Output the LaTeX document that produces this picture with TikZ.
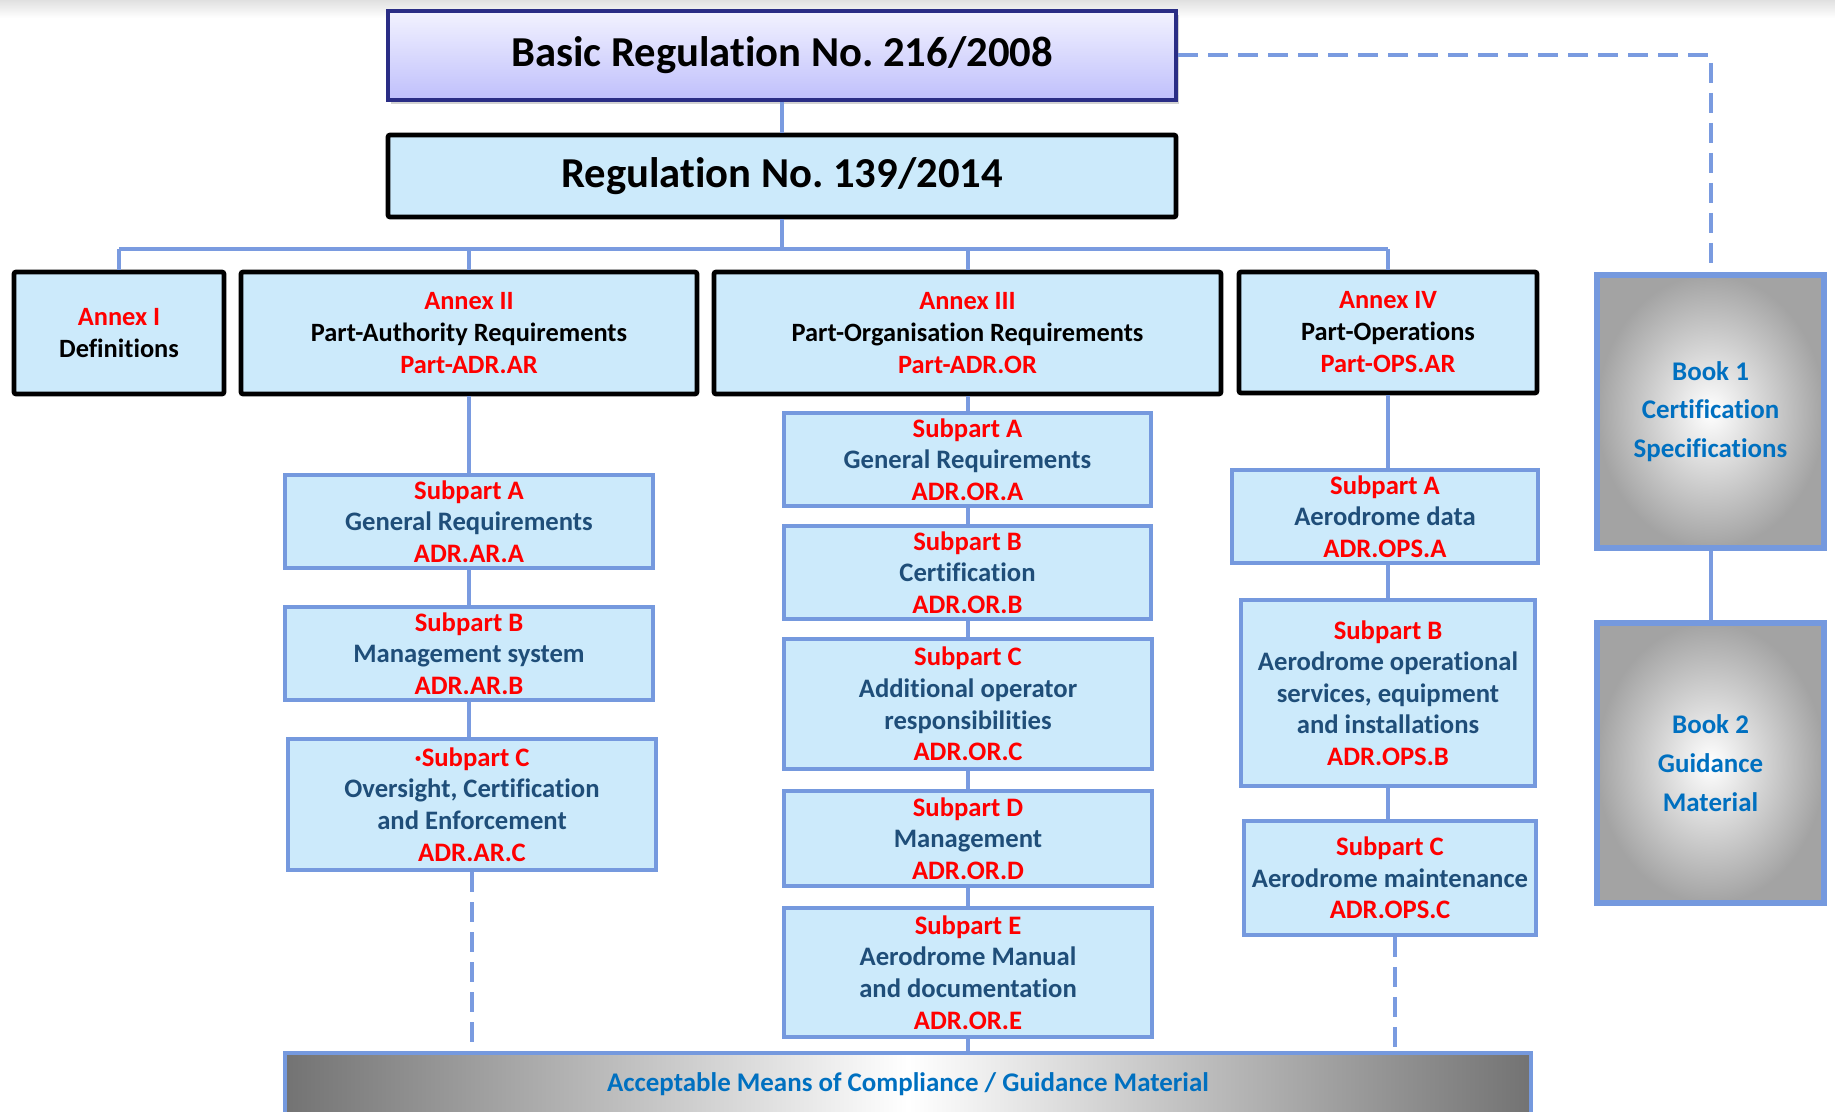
\documentclass[tikz,border=0pt]{standalone}
\usepackage{fontspec}
\setmainfont{Carlito}[Ligatures=NoCommon]
\usetikzlibrary{shadows}
\definecolor{boxfill}{HTML}{CCEAFB}
\definecolor{subborder}{HTML}{7599DE}
\definecolor{connc}{HTML}{7A9BE0}
\definecolor{navyb}{HTML}{2A2D85}
\definecolor{subtext}{HTML}{1F4E79}
\definecolor{booktext}{HTML}{0070C0}
\definecolor{redtext}{HTML}{FF0000}
\frenchspacing
\begin{document}
\begin{tikzpicture}[x=0.75pt,y=-0.75pt,
  sz/.style n args={2}{minimum width={#1*0.75pt}, minimum height={#2*0.75pt}},
  title/.style={inner sep=0pt, align=center, font=\fontsize{32}{38}\selectfont\bfseries},
  annex/.style={draw=black, line width=3.5pt, fill=boxfill, rounded corners=1.5pt, inner sep=0pt, align=center, font=\fontsize{19.8}{24}\selectfont\bfseries},
  sub/.style={draw=subborder, line width=3.5pt, fill=boxfill, inner sep=0pt, align=center, text=subtext, font=\fontsize{20}{23.7}\selectfont\bfseries},
  book/.style={draw=subborder, line width=4pt, inner color=white, outer color=black!36, inner sep=0pt, align=center, text=booktext, font=\fontsize{20.2}{29}\selectfont\bfseries},
  conn/.style={draw=connc, line width=3pt},
  dconn/.style={conn, dash pattern=on 15pt off 7.5pt}]
\useasboundingbox (0,0) rectangle (1835,1112);
\fill[white] (0,0) rectangle (1835,1112);
\shade[top color=black!12, bottom color=white] (0,0) rectangle (1835,18);

% top boxes
\node[title, sz={788}{89}, draw=navyb, line width=3pt, top color=black!3!blue!5, bottom color=black!5!blue!25,
  drop shadow={shadow xshift=2pt, shadow yshift=-3pt, opacity=0.35}] (basic) at (782,55.5) {Basic Regulation No. 216/2008};
\node[title, sz={788}{82}, draw=black, line width=3.5pt, fill=boxfill, rounded corners=1.5pt] (reg) at (782,176) {Regulation No. 139/2014};

% annexes
\node[annex, sz={210}{122}] (a1) at (119,333) {\textcolor{redtext}{Annex I}\\Definitions};
\node[annex, sz={456}{122}] (a2) at (469,333) {\textcolor{redtext}{Annex II}\\Part-Authority Requirements\\\textcolor{redtext}{Part-ADR.AR}};
\node[annex, sz={507}{122}] (a3) at (967.5,333) {\textcolor{redtext}{Annex III}\\Part-Organisation Requirements\\\textcolor{redtext}{Part-ADR.OR}};
\node[annex, sz={298}{121}] (a4) at (1388,332.5) {\textcolor{redtext}{Annex IV}\\Part-Operations\\\textcolor{redtext}{Part-OPS.AR}};

% books
\node[book, sz={227}{273}] (b1) at (1710.5,411.5) {Book 1\\Certification\\Specifications};
\node[book, sz={227}{280}] (b2) at (1710.5,763) {Book 2\\Guidance\\Material};

% Annex II subparts
\node[sub, sz={368}{93}] (s2a) at (469,521.5) {\textcolor{redtext}{Subpart A}\\General Requirements\\\textcolor{redtext}{ADR.AR.A}};
\node[sub, sz={368}{93}] (s2b) at (469,653.5) {\textcolor{redtext}{Subpart B}\\Management system\\\textcolor{redtext}{ADR.AR.B}};
\node[sub, sz={368}{131}] (s2c) at (472,804.5) {\textcolor{redtext}{·Subpart C}\\Oversight, Certification\\and Enforcement\\\textcolor{redtext}{ADR.AR.C}};

% Annex III subparts
\node[sub, sz={367}{93}] (s3a) at (967.5,459.5) {\textcolor{redtext}{Subpart A}\\General Requirements\\\textcolor{redtext}{ADR.OR.A}};
\node[sub, sz={367}{93}] (s3b) at (967.5,572.5) {\textcolor{redtext}{Subpart B}\\Certification\\\textcolor{redtext}{ADR.OR.B}};
\node[sub, sz={368}{130}] (s3c) at (968,704) {\textcolor{redtext}{Subpart C}\\Additional operator\\responsibilities\\\textcolor{redtext}{ADR.OR.C}};
\node[sub, sz={368}{95}] (s3d) at (968,838.5) {\textcolor{redtext}{Subpart D}\\Management\\\textcolor{redtext}{ADR.OR.D}};
\node[sub, sz={368}{129}] (s3e) at (968,972.5) {\textcolor{redtext}{Subpart E}\\Aerodrome Manual\\and documentation\\\textcolor{redtext}{ADR.OR.E}};

% Annex IV subparts
\node[sub, sz={306}{93}] (s4a) at (1385,516.5) {\textcolor{redtext}{Subpart A}\\Aerodrome data\\\textcolor{redtext}{ADR.OPS.A}};
\node[sub, sz={294}{186}] (s4b) at (1388,693) {\textcolor{redtext}{Subpart B}\\Aerodrome operational\\services, equipment\\and installations\\\textcolor{redtext}{ADR.OPS.B}};
\node[sub, sz={292}{114}] (s4c) at (1390,878) {\textcolor{redtext}{Subpart C}\\Aerodrome maintenance\\\textcolor{redtext}{ADR.OPS.C}};

% AMC bar
\node[draw=subborder, line width=3.5pt, left color=black!55, right color=black!55, middle color=white,
  sz={1246}{63}, inner sep=0pt, text=booktext, font=\fontsize{20.2}{24}\selectfont\bfseries] (amc) at (908,1084.5)
  {Acceptable Means of Compliance / Guidance Material};

% connectors
\coordinate (bus) at (0,249);
\draw[conn] (basic.south) -- (reg.north);
\draw[conn] (reg.south) -- (reg.south |- bus);
\draw[conn] (a1.north |- bus) -- (a4.north |- bus);
\foreach \n in {a1,a2,a3,a4} \draw[conn] (\n.north) -- (\n.north |- bus);
\draw[conn] (a2.south) -- (s2a.north);
\draw[conn] (s2a.south) -- (s2b.north);
\draw[conn] (s2b.south) -- (s2b.south |- s2c.north);
\draw[conn] (a3.south) -- (s3a.north);
\draw[conn] (s3a.south) -- (s3a.south |- s3b.north);
\draw[conn] (s3b.south) -- (s3b.south |- s3c.north);
\draw[conn] (s3c.south) -- (s3d.north);
\draw[conn] (s3d.south) -- (s3e.north);
\draw[conn] (s3e.south) -- (s3e.south |- amc.north);
\draw[conn] (a4.south) -- (a4.south |- s4a.north);
\draw[conn] (s4b.north |- s4a.south) -- (s4b.north);
\draw[conn] (s4b.south) -- (s4b.south |- s4c.north);
\draw[dconn] (s2c.south) -- (s2c.south |- amc.north);
\draw[dconn] ([xshift=4pt]s4c.south) -- ([xshift=4pt]s4c.south |- amc.north);
\draw[dconn] (basic.east) -| (b1.north);
\draw[conn] (b1.south) -- (b2.north);
\end{tikzpicture}
\end{document}
